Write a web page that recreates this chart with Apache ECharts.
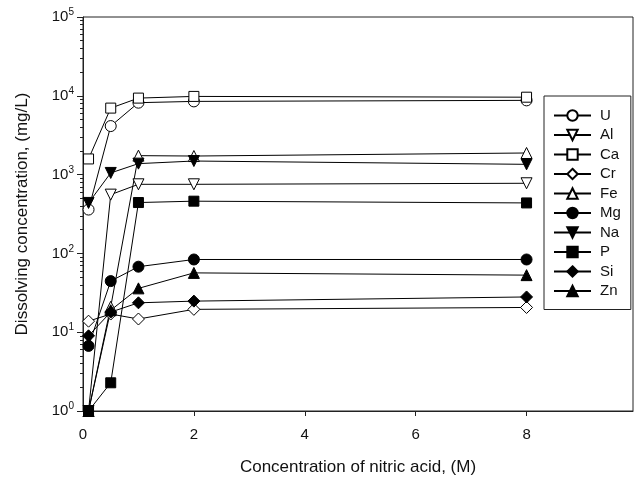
<!DOCTYPE html>
<html lang="en">
<head>
<meta charset="UTF-8">
<title>Dissolving concentration</title>
<script src="https://cdn.jsdelivr.net/npm/echarts@6/dist/echarts.min.js"></script>
</head>
<body style="margin:0;background:#fff">
<div id="main" style="width:639px;height:478px;"></div>
<script>
// nitric acid concentration (M)
var acid = [0.1, 0.5, 1, 2, 8];
// dissolved concentration (mg/L) per element
var U  = [360, 4130, 8180, 8490, 8750];
var Al = [1, 557, 753, 753, 776];
var Ca = [1580, 6980, 9350, 9820, 9600];
var Cr = [13.8, 17, 14.7, 19.5, 20.6];
var Fe = [1, 21, 1740, 1720, 1880];
var Mg = [6.7, 44.5, 67.8, 83.7, 83.7];
var Na = [437, 1050, 1378, 1487, 1350];
var P  = [1, 2.28, 442, 460, 437];
var Si = [9, 18, 23.6, 24.8, 28];
var Zn = [1, 19, 36, 56.6, 53];
var xTicks = [0, 2, 4, 6, 8];

var downTri = 'path://M-1,-1L1,-1L0,1Z';
var upTri = 'path://M0,-1L1,1L-1,1Z';
var diamond = 'path://M0,-1L1,0L0,1L-1,0Z';

// minor ticks of the log axis, placed on a hidden linear axis in log10 units
var minorTicks = [];
for (var d = 0; d < 5; d++) {
    for (var k = 2; k <= 9; k++) minorTicks.push(d + Math.log10(k));
}

function mk(name, vals, symbol, filled, size) {
    return {
        name: name,
        type: 'line',
        data: acid.map(function (x, i) { return [x, vals[i]]; }),
        symbol: symbol,
        symbolSize: size || 10,
        showAllSymbol: true,
        lineStyle: { color: '#000', width: 1 },
        itemStyle: filled ? { color: '#000', borderColor: '#000', borderWidth: 1 }
                          : { color: '#fff', borderColor: '#000', borderWidth: 1 },
        emphasis: { disabled: true },
        animation: false
    };
}

var myChart = echarts.init(document.getElementById('main'));

var option = {
    backgroundColor: '#fff',
    textStyle: { fontFamily: 'Liberation Sans, Arial, sans-serif' },
    grid: {
        left: 83, right: 6, top: 17, bottom: 67,
        outerBoundsMode: 'none', containLabel: false,
        show: true, borderColor: '#222', borderWidth: 1, backgroundColor: 'transparent'
    },
    legend: {
        orient: 'vertical',
        left: 544, top: 96,
        padding: [12, 10, 11, 9],
        itemWidth: 37, itemHeight: 13, itemGap: 4.5,
        borderColor: '#222', borderWidth: 1,
        textStyle: { fontSize: 15, lineHeight: 14, color: '#111', padding: [0, 0, 0, 4] },
        data: ['U', 'Al', 'Ca', 'Cr', 'Fe', 'Mg', 'Na', 'P', 'Si', 'Zn']
    },
    xAxis: {
        type: 'value', min: 0, max: 9.92,
        name: 'Concentration of nitric acid, (M)',
        nameLocation: 'middle', nameGap: 48,
        nameTextStyle: { fontSize: 17, color: '#111' },
        splitLine: { show: false },
        axisLine: { lineStyle: { color: '#222', width: 1 } },
        axisTick: { length: 5, customValues: xTicks, lineStyle: { color: '#222' } },
        axisLabel: { customValues: xTicks, fontSize: 15, color: '#111', margin: 16 }
    },
    yAxis: [{
        type: 'log', logBase: 10, min: 1, max: 100000,
        name: 'Dissolving concentration, (mg/L)',
        nameLocation: 'middle', nameGap: 52,
        nameTextStyle: { fontSize: 17, color: '#111' },
        splitLine: { show: false },
        axisLine: { lineStyle: { color: '#222', width: 1 } },
        axisTick: { length: 6, lineStyle: { color: '#222' } },
        axisLabel: {
            fontSize: 15, color: '#111', margin: 9,
            formatter: function (v) {
                return '{b|10}{s|' + Math.round(Math.log10(v)) + '}';
            },
            rich: {
                b: { fontSize: 15, color: '#111' },
                s: { fontSize: 10, color: '#111', padding: [0, 0, 9, 0] }
            }
        }
    }, {
        type: 'value', min: 0, max: 5, position: 'left',
        splitLine: { show: false },
        axisLine: { show: false },
        axisLabel: { show: false },
        axisTick: { length: 3, customValues: minorTicks, lineStyle: { color: '#222' } }
    }],
    series: [
        mk('U', U, 'circle', false, 11),
        mk('Al', Al, downTri, false, 11),
        mk('Ca', Ca, 'rect', false, 10),
        mk('Cr', Cr, diamond, false, 12),
        mk('Fe', Fe, upTri, false, 11),
        mk('Mg', Mg, 'circle', true, 11),
        mk('Na', Na, downTri, true, 11),
        mk('P', P, 'rect', true, 10),
        mk('Si', Si, diamond, true, 12),
        mk('Zn', Zn, upTri, true, 11)
    ]
};

myChart.setOption(option);
</script>
</body>
</html>
